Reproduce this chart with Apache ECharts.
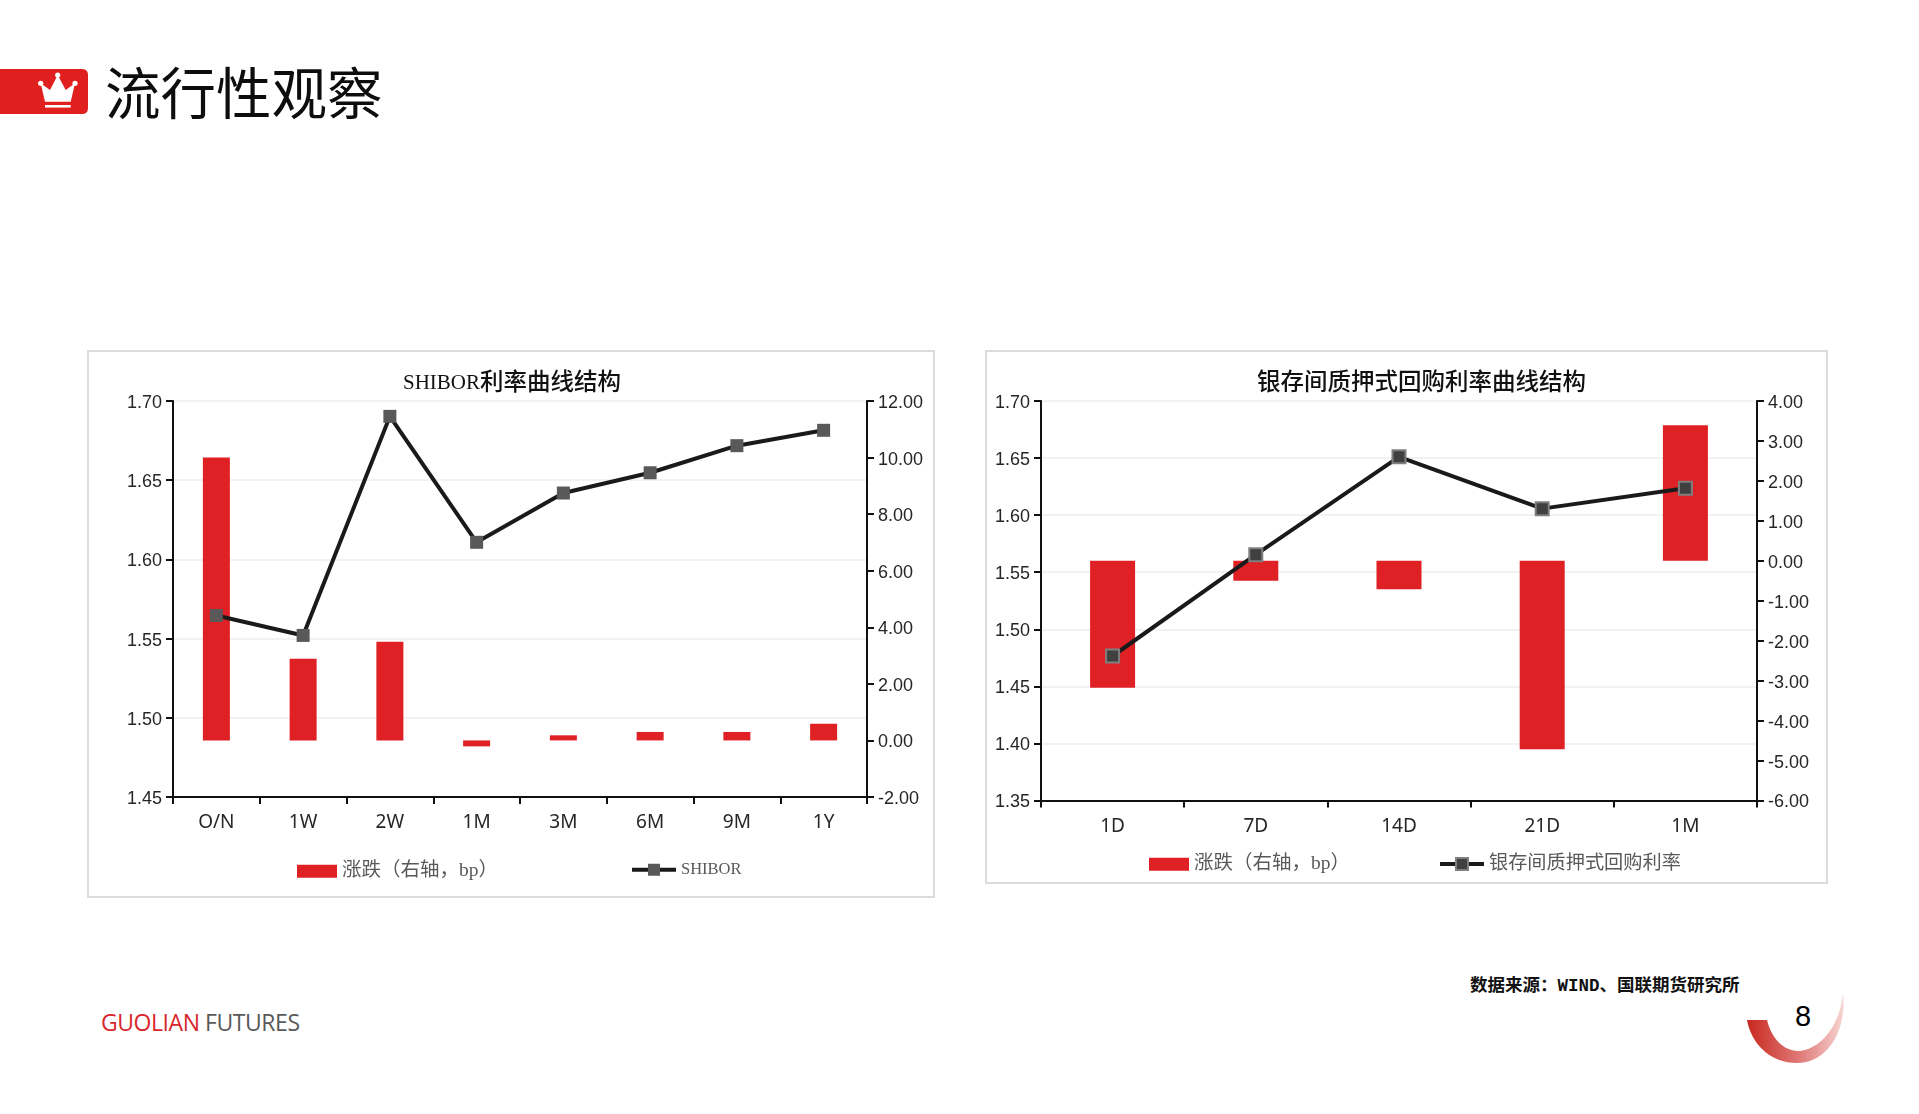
<!DOCTYPE html>
<html>
<head>
<meta charset="utf-8">
<title>流行性观察</title>
<script src="https://cdn.jsdelivr.net/npm/echarts@6/dist/echarts.min.js"></script>
<style>
html, body { margin: 0; padding: 0; background: #fff; }
body { position: relative; width: 1919px; height: 1114px; overflow: hidden; }
.abs { position: absolute; white-space: nowrap; }
.charts { position: absolute; outline: 2px solid #dcdcdc; outline-offset: -1px; }
#heading { left: 105px; top: 52px; font: 400 55.5px/76px "Noto Sans CJK SC", sans-serif; color: #0d0d0d; }
#brand { left: 101px; top: 1005px; font: 400 23px/34px "Open Sans", sans-serif; letter-spacing: -0.45px; color: #595959; }
#brand span { color: #d8262c; }
#source { left: 1470px; top: 974px; font: 700 17.5px/24px "Liberation Mono", "Noto Sans CJK SC", monospace; color: #111; }
#page { left: 1795px; top: 998px; font: 400 29px/36px "Liberation Sans", sans-serif; color: #000; }
svg.abs { left: 0; top: 0; }
</style>
</head>
<body>
<svg class="abs" width="1919" height="1114">
    <defs>
        <linearGradient id="swoosh" x1="0" y1="0" x2="1" y2="0">
            <stop offset="0" stop-color="#c8281f"/>
            <stop offset="0.55" stop-color="#e07a78"/>
            <stop offset="1" stop-color="#f6d4d2"/>
        </linearGradient>
    </defs>
    <path d="M0 69 H82 Q88 69 88 75 V108 Q88 114 82 114 H0 Z" fill="#e0201f"/>
    <path d="M40.7 83.3 L50 90 L57.7 75 L65.7 90 L75 83.3 L70.7 101.7 H45 Z" fill="#fff"/>
    <circle cx="40.7" cy="83.3" r="2.6" fill="#fff"/>
    <circle cx="57.7" cy="75" r="2.6" fill="#fff"/>
    <circle cx="75" cy="83.3" r="2.6" fill="#fff"/>
    <rect x="45" y="105" width="25.7" height="2.6" fill="#fff"/>
    <path d="M1747 1020 C1752 1046 1772 1063 1797 1063 C1825 1063 1847 1035 1843 993 C1840 1025 1822 1048 1800 1051 C1785 1052 1772 1040 1767 1020 Z" fill="url(#swoosh)"/>
</svg>
<div id="heading" class="abs">流行性观察</div>
<div id="brand" class="abs"><span>GUOLIAN</span> FUTURES</div>
<div id="source" class="abs">数据来源：WIND、国联期货研究所</div>
<div id="page" class="abs">8</div>
<div id="ShiborChart" class="charts" style="left:88px;top:351px;width:846px;height:546px"></div>
<div id="RepoChart" class="charts" style="left:986px;top:351px;width:841px;height:532px"></div>

<script>
var changeName = "涨跌（右轴，bp）";

var shiborTerms = ["O/N", "1W", "2W", "1M", "3M", "6M", "9M", "1Y"];
var shiborRates = [1.5646, 1.552, 1.6903, 1.6108, 1.6419, 1.6547, 1.6718, 1.6815];
var shiborChange = [10.0, 2.89, 3.49, -0.21, 0.18, 0.30, 0.30, 0.59];

var repoTerms = ["1D", "7D", "14D", "21D", "1M"];
var repoRates = [1.4766, 1.5654, 1.6511, 1.6057, 1.6235];
var repoChange = [-3.18, -0.50, -0.71, -4.72, 3.39];

var serifFont = '"Liberation Serif", "Noto Sans CJK SC", serif';
var numberFont = '"Liberation Sans", sans-serif';

function twoDigits(v) {
    return "{v|" + v.toFixed(2) + "}";
}

function valueAxis(min, max, interval, position, withGrid) {
    return {
        type: "value",
        position: position,
        min: min,
        max: max,
        interval: interval,
        axisLine: { show: true, lineStyle: { color: "#111", width: 2 } },
        axisTick: { show: true, length: 7, lineStyle: { color: "#111", width: 2 } },
        axisLabel: {
            margin: 11,
            showMinLabel: true,
            showMaxLabel: true,
            formatter: twoDigits,
            rich: {
                v: { padding: [4, 0, 0, 0], color: "#262626", fontFamily: numberFont, fontSize: 18 }
            }
        },
        splitLine: { show: withGrid, lineStyle: { color: "#f2f2f2", width: 2 } }
    };
}

function drawChart(id, cfg) {
    var chart = echarts.init(document.getElementById(id));
    chart.setOption({
        animation: false,
        title: {
            text: cfg.title,
            left: cfg.titleLeft,
            top: 16,
            textStyle: {
                fontFamily: serifFont,
                fontSize: 23.5,
                fontWeight: 500,
                color: "#111",
                rich: {
                    latin: { fontFamily: serifFont, fontSize: 21, fontWeight: 500, color: "#111" },
                    cjk: { fontFamily: serifFont, fontSize: 23.5, fontWeight: 500, color: "#111" }
                }
            }
        },
        legend: [
            {
                data: [changeName],
                left: cfg.barLegendLeft,
                top: cfg.legendTop,
                icon: "rect",
                itemWidth: 40,
                itemHeight: 13,
                textStyle: { fontFamily: serifFont, fontSize: 19.5, color: "#595959" }
            },
            {
                data: [cfg.lineName],
                left: cfg.lineLegendLeft,
                top: cfg.legendTop,
                itemWidth: 44,
                itemHeight: 15,
                lineStyle: { color: "#1a1a1a", width: 4 },
                textStyle: { fontFamily: serifFont, fontSize: cfg.lineLegendSize, color: "#595959" }
            }
        ],
        grid: cfg.grid,
        xAxis: {
            type: "category",
            data: cfg.terms,
            axisLine: { onZero: false, lineStyle: { color: "#111", width: 2 } },
            axisTick: { show: true, length: 7, lineStyle: { color: "#111", width: 2 } },
            axisLabel: { margin: 16.5, color: "#262626", fontFamily: '"Noto Sans", sans-serif', fontSize: 19, interval: 0 }
        },
        yAxis: [
            valueAxis(cfg.left[0], cfg.left[1], cfg.left[2], "left", true),
            valueAxis(cfg.right[0], cfg.right[1], cfg.right[2], "right", false)
        ],
        series: [
            {
                name: changeName,
                type: "bar",
                yAxisIndex: 1,
                data: cfg.change,
                barWidth: cfg.barWidth,
                itemStyle: { color: "#df2025" }
            },
            {
                name: cfg.lineName,
                type: "line",
                yAxisIndex: 0,
                data: cfg.rates,
                z: 5,
                symbol: "rect",
                symbolSize: 13,
                lineStyle: { color: "#1a1a1a", width: 4 },
                itemStyle: cfg.marker
            }
        ]
    });
}

drawChart("ShiborChart", {
    title: "{latin|SHIBOR}{cjk|利率曲线结构}",
    titleLeft: 310,
    lineName: "SHIBOR",
    lineLegendSize: 16.5,
    terms: shiborTerms,
    rates: shiborRates,
    change: shiborChange,
    left: [1.45, 1.70, 0.05],
    right: [-2, 12, 2],
    grid: { left: 85, top: 50, width: 694, height: 396 },
    barWidth: 27,
    barLegendLeft: 204,
    lineLegendLeft: 537,
    legendTop: 505.5,
    marker: { color: "#595959" }
});

drawChart("RepoChart", {
    title: "银存间质押式回购利率曲线结构",
    titleLeft: 266,
    lineName: "银存间质押式回购利率",
    lineLegendSize: 19.2,
    terms: repoTerms,
    rates: repoRates,
    change: repoChange,
    left: [1.35, 1.70, 0.05],
    right: [-6, 4, 1],
    grid: { left: 55, top: 50, width: 716, height: 399.5 },
    barWidth: 45,
    barLegendLeft: 158,
    lineLegendLeft: 447,
    legendTop: 498.5,
    marker: { color: "#404040", borderColor: "#7f7f7f", borderWidth: 2 }
});
</script>
</body>
</html>
